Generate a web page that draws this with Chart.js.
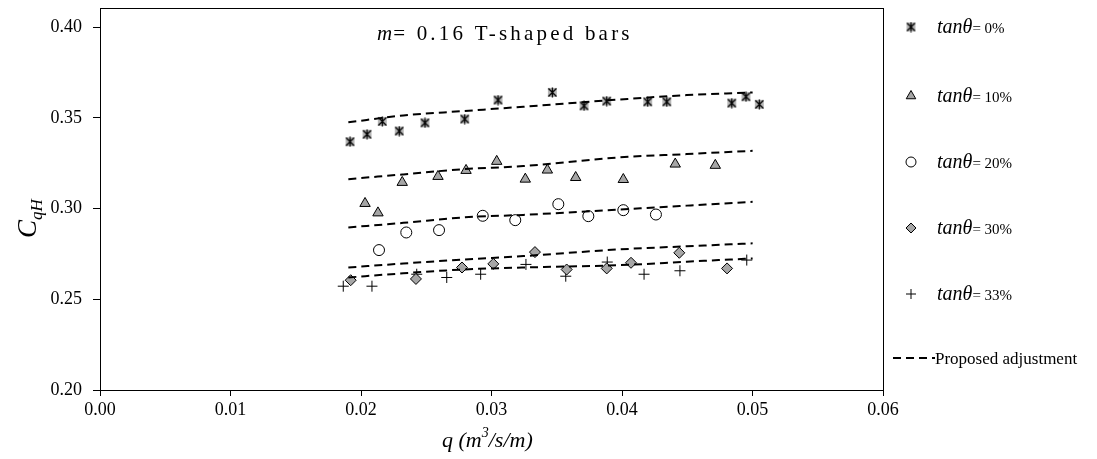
<!DOCTYPE html>
<html>
<head>
<meta charset="utf-8">
<script src="https://cdn.jsdelivr.net/npm/chart.js@4"></script>
<style>
  html, body { margin: 0; padding: 0; background: #fff; }
  #wrap { width: 1097px; height: 459px; }
</style>
</head>
<body>
<div id="wrap"><canvas id="chart" width="1097" height="459"></canvas></div>
<script>
// values
const q0 = [0.01916, 0.02046, 0.02163, 0.02293, 0.0249, 0.02795, 0.0305, 0.03466, 0.03709, 0.03883, 0.04197, 0.04343, 0.04841, 0.0495, 0.05052];
const c0 = [0.3368, 0.3409, 0.348, 0.3427, 0.3472, 0.3493, 0.3598, 0.364, 0.3566, 0.3592, 0.3588, 0.3588, 0.3581, 0.3616, 0.3574];

const q10 = [0.02031, 0.0213, 0.02316, 0.0259, 0.02805, 0.0304, 0.03259, 0.03428, 0.03645, 0.0401, 0.04408, 0.04715];
const c10 = [0.3028, 0.2976, 0.3144, 0.3177, 0.321, 0.326, 0.3162, 0.3212, 0.3171, 0.316, 0.3245, 0.3238];

const q20 = [0.02138, 0.02347, 0.02598, 0.02933, 0.03182, 0.03512, 0.03742, 0.0401, 0.0426];
const c20 = [0.2771, 0.2868, 0.2881, 0.296, 0.2936, 0.3024, 0.2958, 0.2991, 0.2967];

const q30 = [0.01921, 0.02421, 0.02774, 0.03014, 0.03333, 0.03576, 0.03883, 0.04069, 0.04439, 0.04805];
const c30 = [0.2605, 0.2612, 0.2675, 0.2695, 0.276, 0.2664, 0.267, 0.2701, 0.2756, 0.267];

const q33 = [0.01864, 0.02084, 0.02427, 0.02657, 0.02917, 0.03264, 0.03569, 0.03887, 0.04169, 0.04444, 0.04956];
const c33 = [0.2572, 0.2572, 0.2638, 0.262, 0.2638, 0.2692, 0.2627, 0.2705, 0.2638, 0.2657, 0.2716];

// proposed adjustment curves
const fitQ = [0.01903, 0.02324, 0.02784, 0.03244, 0.03985, 0.04496, 0.05001];
const fit0 = [0.3475, 0.3513, 0.3537, 0.3561, 0.3601, 0.3625, 0.3640];
const fit10 = [0.3162, 0.3188, 0.3217, 0.3234, 0.3282, 0.3300, 0.3318];
const fit20 = [0.2896, 0.2921, 0.2951, 0.2965, 0.2995, 0.3016, 0.3037];
const fit30 = [0.2675, 0.2697, 0.2719, 0.2738, 0.2775, 0.2792, 0.2808];
const fit33 = [0.2620, 0.2643, 0.2664, 0.2675, 0.2688, 0.2707, 0.2725];

const seriesNames = ['0%', '10%', '20%', '30%', '33%'];
const fitName = 'Proposed adjustment';
const xTicks = [0, 0.01, 0.02, 0.03, 0.04, 0.05, 0.06];
const yTicks = [0.20, 0.25, 0.30, 0.35, 0.40];

const SERIF = "'Liberation Serif', 'DejaVu Serif', serif";

// Excel style asterisk marker: grey square with x and vertical stroke
function asteriskMarker() {
  const c = document.createElement('canvas');
  c.width = 11; c.height = 11;
  const g = c.getContext('2d');
  g.fillStyle = '#b8b8b8';
  g.fillRect(1, 1, 9, 9);
  g.strokeStyle = '#000';
  g.lineWidth = 1.3;
  g.beginPath();
  g.moveTo(1.5, 1.5); g.lineTo(9.5, 9.5);
  g.moveTo(9.5, 1.5); g.lineTo(1.5, 9.5);
  g.moveTo(5.5, 0.5); g.lineTo(5.5, 10.5);
  g.stroke();
  return c;
}
const starImg = asteriskMarker();

const toPts = (xs, ys) => xs.map((x, i) => ({ x, y: ys[i] }));

const markerStyles = [
  { pointStyle: starImg, radius: 5, bg: '#b8b8b8', border: '#000' },
  { pointStyle: 'triangle', radius: 6, bg: '#a6a6a6', border: '#000' },
  { pointStyle: 'circle', radius: 5.5, bg: '#ffffff', border: '#000' },
  { pointStyle: 'rectRot', radius: 5.5, bg: '#a6a6a6', border: '#000' },
  { pointStyle: 'cross', radius: 5.5, bg: '#000', border: '#000' },
];

const pointSets = [[q0, c0], [q10, c10], [q20, c20], [q30, c30], [q33, c33]];
const fitSets = [fit0, fit10, fit20, fit30, fit33];

const datasets = [];
pointSets.forEach(([xs, ys], i) => {
  const m = markerStyles[i];
  datasets.push({
    label: 'tanθ= ' + seriesNames[i],
    data: toPts(xs, ys),
    showLine: false,
    pointStyle: m.pointStyle,
    pointRadius: m.radius,
    pointBackgroundColor: m.bg,
    pointBorderColor: m.border,
    pointBorderWidth: 1,
    order: 1,
  });
});
fitSets.forEach((ys) => {
  datasets.push({
    label: fitName,
    data: toPts(fitQ, ys),
    showLine: true,
    borderColor: '#000',
    borderWidth: 2,
    borderDash: [8, 5],
    pointRadius: 0,
    tension: 0.4,
    cubicInterpolationMode: 'monotone',
    fill: false,
    order: 0,
  });
});

// frame, titles and legend
const decorations = {
  id: 'decorations',
  afterDraw(chart) {
    const { ctx, chartArea } = chart;
    ctx.save();
    ctx.strokeStyle = '#000';
    ctx.lineWidth = 1;
    ctx.strokeRect(chartArea.left + 0.5, chartArea.top + 0.5,
      chartArea.right - chartArea.left, chartArea.bottom - chartArea.top);

    ctx.fillStyle = '#000';
    ctx.textBaseline = 'alphabetic';
    ctx.textAlign = 'left';

    // title inside the plot
    let x = 377;
    ctx.font = 'italic 21px ' + SERIF;
    ctx.fillText('m', x, 40);
    x += ctx.measureText('m').width + 1;
    ctx.font = '21px ' + SERIF;
    if ('letterSpacing' in ctx) ctx.letterSpacing = '3.2px';
    ctx.fillText('= 0.16 T-shaped bars', x, 40);
    if ('letterSpacing' in ctx) ctx.letterSpacing = '0px';

    // x axis title
    ctx.font = 'italic 22px ' + SERIF;
    let xt = 442;
    ctx.fillText('q (m', xt, 447);
    xt += ctx.measureText('q (m').width;
    ctx.font = 'italic 14px ' + SERIF;
    ctx.fillText('3', xt, 437);
    xt += ctx.measureText('3').width;
    ctx.font = 'italic 22px ' + SERIF;
    ctx.fillText('/s/m)', xt, 447);

    // y axis title
    ctx.save();
    ctx.translate(36, 238);
    ctx.rotate(-Math.PI / 2);
    ctx.font = 'italic 27px ' + SERIF;
    ctx.fillText('C', 0, 0);
    const cw = ctx.measureText('C').width;
    ctx.font = 'italic 17px ' + SERIF;
    ctx.fillText('qH', cw, 6);
    ctx.restore();

    // legend
    const rows = [27, 96, 162, 228, 294];
    rows.forEach((y, i) => {
      const m = markerStyles[i];
      ctx.save();
      ctx.fillStyle = m.bg;
      ctx.strokeStyle = m.border;
      ctx.lineWidth = 1;
      Chart.helpers.drawPoint(ctx, { pointStyle: m.pointStyle, radius: m.radius - 0.5, rotation: 0, borderWidth: 1 }, 911, y);
      ctx.restore();
      ctx.fillStyle = '#000';
      ctx.font = 'italic 20px ' + SERIF;
      ctx.fillText('tanθ', 937, y + 6);
      const tw = ctx.measureText('tanθ').width;
      ctx.font = '15px ' + SERIF;
      ctx.fillText('= ' + seriesNames[i], 937 + tw, y + 6);
    });
    ctx.strokeStyle = '#000';
    ctx.lineWidth = 2;
    ctx.setLineDash([8, 5]);
    ctx.beginPath();
    ctx.moveTo(893, 358);
    ctx.lineTo(935, 358);
    ctx.stroke();
    ctx.setLineDash([]);
    ctx.font = '17px ' + SERIF;
    ctx.fillText(fitName, 935, 364);
    ctx.restore();
  }
};

new Chart(document.getElementById('chart'), {
  type: 'scatter',
  data: { datasets },
  options: {
    responsive: false,
    animation: false,
    layout: { padding: { top: 8, right: 214, left: 0, bottom: 0 } },
    plugins: {
      legend: { display: false },
      tooltip: { enabled: false },
      title: { display: false },
    },
    scales: {
      x: {
        type: 'linear',
        min: 0,
        max: 0.06,
        afterBuildTicks: (scale) => { scale.ticks = xTicks.map((v) => ({ value: v })); },
        afterFit: (scale) => {
          scale.height = 69;
          scale.paddingLeft = 0;
          scale.paddingRight = 0;
        },
        grid: { drawOnChartArea: false, tickLength: 6, color: '#000', tickColor: '#000' },
        border: { color: '#000', width: 1 },
        ticks: {
          color: '#000',
          padding: 3,
          font: { family: SERIF, size: 18 },
          callback: (v) => v.toFixed(2),
        },
      },
      y: {
        type: 'linear',
        min: 0.2,
        max: 0.4105,
        afterBuildTicks: (scale) => { scale.ticks = yTicks.map((v) => ({ value: v })); },
        afterFit: (scale) => {
          scale.width = 100;
          scale.paddingTop = 0;
          scale.paddingBottom = 0;
        },
        grid: { drawOnChartArea: false, tickLength: 7, color: '#000', tickColor: '#000' },
        border: { color: '#000', width: 1 },
        ticks: {
          color: '#000',
          padding: 11,
          font: { family: SERIF, size: 18 },
          callback: (v) => v.toFixed(2),
        },
      },
    },
  },
  plugins: [decorations],
});
</script>
</body>
</html>
